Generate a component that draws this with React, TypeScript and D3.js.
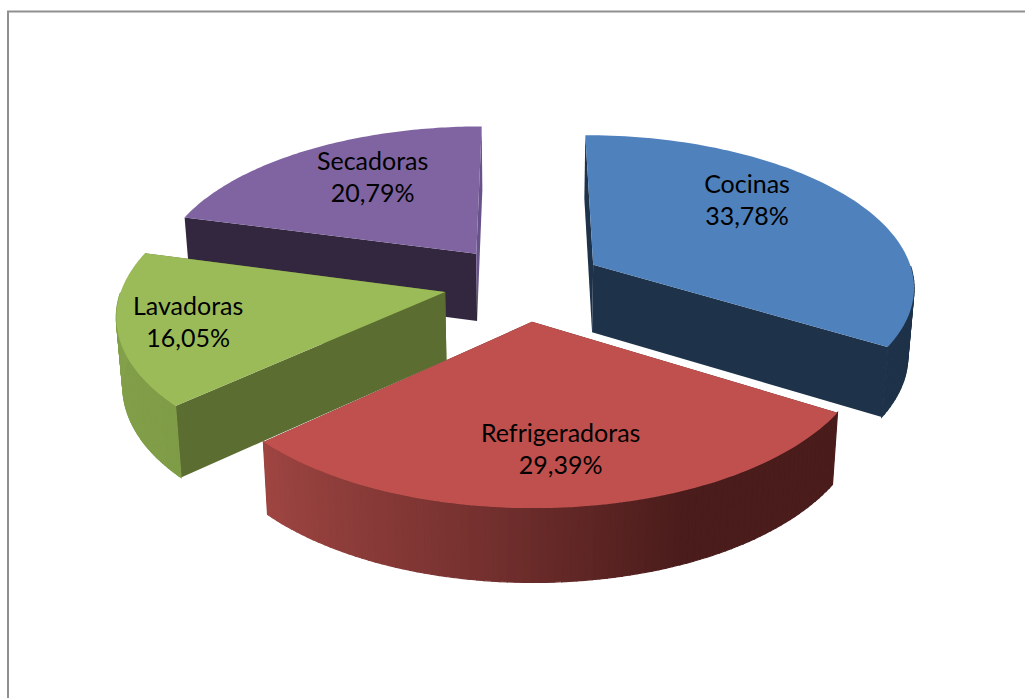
import React from "react";
import * as d3 from "d3";

const categories = ["Cocinas", "Refrigeradoras", "Lavadoras", "Secadoras"];
const shares = [33.78, 29.39, 16.05, 20.79];
const shareLabels = ["33,78%", "29,39%", "16,05%", "20,79%"];
const topColors = ["#4F81BD", "#C0504D", "#9BBB59", "#8064A2"];
const startWallColors = ["#1E3249", "#4A1C1B", "#5B6D30", "#33273F"];
const endWallColors = ["#1E3249", "#4A1C1B", "#5B6D30", "#67528A"];
const sideRamps = [
  ["#1E3249", "#1E3249"],
  ["#4A1C1B", "#4A1C1B", "#7A3331", "#9E4542"],
  ["#7F9C47", "#86A34D"],
  ["#33273F", "#33273F"],
];
const labelAngleShift = [-11.9, -0.5, -0.5, 4.6];
const labelRadius = [0.699, 0.722, 0.79, 0.673];
const paintOrder = [0, 3, 2, 1];

const W = 1025, H = 698;
const CX = 524, CY = 283, SX = 322, SY = 151, K = 0.13;
const EXPLODE = 0.25, DEPTH = 68, CONVERGE = 0.016;
const STEPS = 90;

type P = [number, number];
function project(u: number, v: number, z = 0): P {
  const w = 1 + K * v;
  const x = CX + (SX * u) / w;
  const y = CY - (SY * v) / w;
  return [CX + (x - CX) * (1 - CONVERGE * z), y + (z * DEPTH) / Math.sqrt(w)];
}

const poly = d3.line<P>().x((d) => d[0]).y((d) => d[1]);
const pieGen = d3.pie<number>().sort(null).value((d) => d);

export default function App() {
  const arcs = pieGen(shares);
  const slices = arcs.map((a, i) => {
    const mid = (a.startAngle + a.endAngle) / 2;
    const ou = EXPLODE * Math.sin(mid);
    const ov = EXPLODE * Math.cos(mid);
    const at = (t: number, r = 1, z = 0) =>
      project(ou + r * Math.sin(t), ov + r * Math.cos(t), z);
    const angle = d3.scaleLinear().domain([0, STEPS]).range([a.startAngle, a.endAngle]);
    const ts = d3.range(STEPS + 1).map((k) => angle(k));
    const top: P[] = [at(0, 0), ...ts.map((t) => at(t))];
    const ramp = d3
      .scaleLinear<string>()
      .domain(d3.range(sideRamps[i].length).map((k) => k / Math.max(1, sideRamps[i].length - 1)))
      .range(sideRamps[i]);
    const strips = d3.range(STEPS).map((k) => ({
      d: poly([at(ts[k]), at(ts[k + 1]), at(ts[k + 1], 1, 1), at(ts[k], 1, 1)]) + "Z",
      c: ramp(k / (STEPS - 1)),
      back: Math.cos((ts[k] + ts[k + 1]) / 2) > 0,
    }));
    const wallA = poly([at(0, 0), at(a.startAngle), at(a.startAngle, 1, 1), at(0, 0, 1)]) + "Z";
    const wallB = poly([at(0, 0), at(a.endAngle), at(a.endAngle, 1, 1), at(0, 0, 1)]) + "Z";
    const la = mid + (labelAngleShift[i] * Math.PI) / 180;
    const label = at(la, labelRadius[i]);
    return { i, top: poly(top) + "Z", strips, wallA, wallB, label };
  });

  return (
    <svg
      width={W}
      height={H}
      viewBox={`0 0 ${W} ${H}`}
      style={{ position: "fixed", left: 0, top: 0, background: "#fff" }}
    >
      <path d={`M8 ${H}V11.5H${W}`} fill="none" stroke="#909090" strokeWidth={2} />
      {paintOrder.map((idx) => {
        const s = slices[idx];
        return (
          <g key={categories[idx]}>
            <path d={s.wallA} fill={startWallColors[idx]} />
            <path d={s.wallB} fill={endWallColors[idx]} />
            {s.strips.filter((st) => !st.back).map((st, k) => (
              <path key={k} d={st.d} fill={st.c} stroke={st.c} strokeWidth={1.2} />
            ))}
            <path d={s.top} fill={topColors[idx]} />
          </g>
        );
      })}
      {slices.map((s) => (
        <text
          key={s.i}
          x={s.label[0]}
          y={s.label[1]}
          textAnchor="middle"
          fontFamily="Lato, sans-serif"
          fontSize={25}
          fill="#000"
        >
          <tspan x={s.label[0]} dy={-8}>{categories[s.i]}</tspan>
          <tspan x={s.label[0]} dy={32}>{shareLabels[s.i]}</tspan>
        </text>
      ))}
    </svg>
  );
}
